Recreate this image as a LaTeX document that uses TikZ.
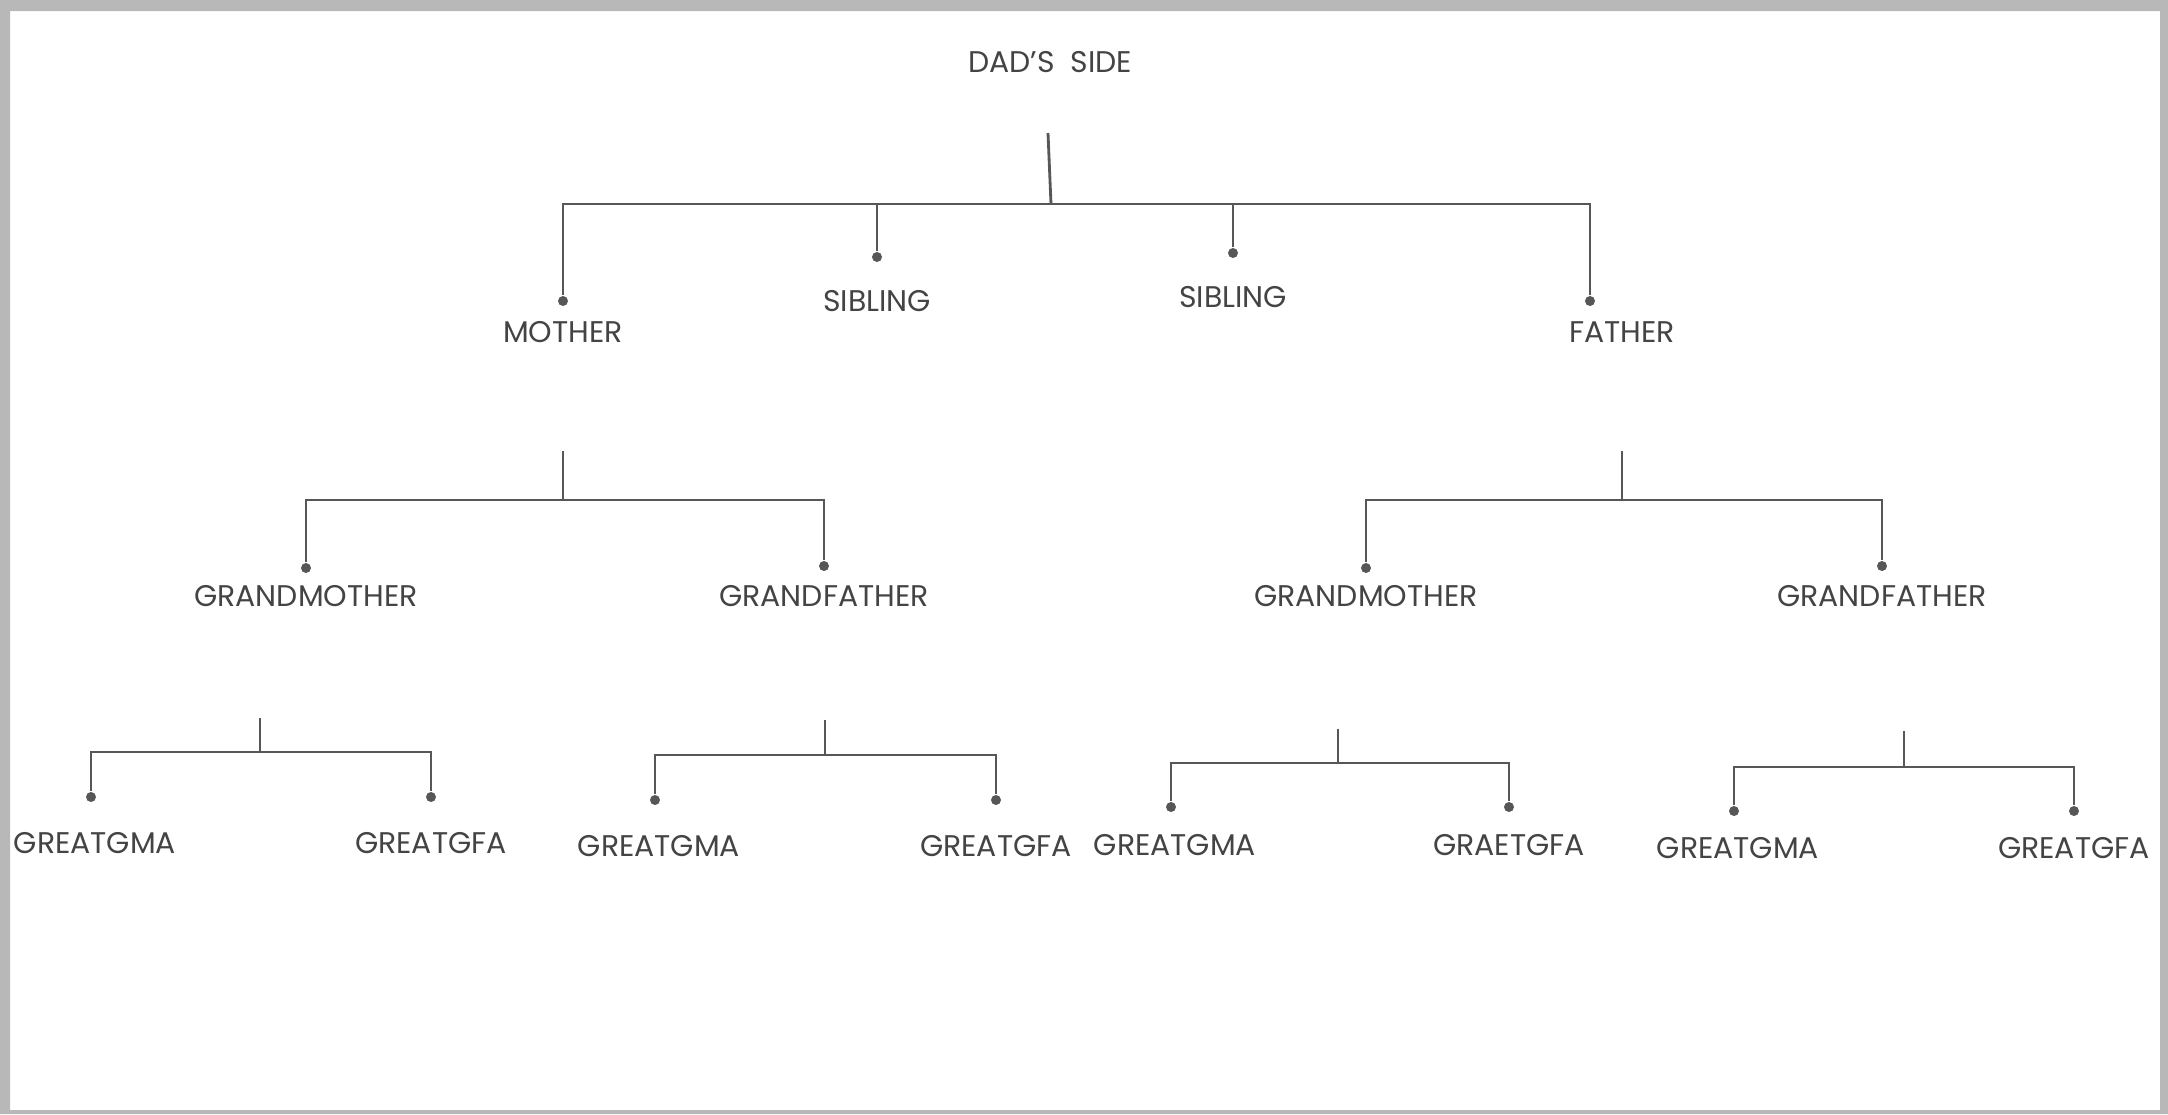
\documentclass[tikz,border=0pt]{standalone}
\usepackage{fontspec}
\setmainfont{Poppins}
\definecolor{inkgray}{HTML}{444444}
\definecolor{linegray}{HTML}{575757}
\definecolor{framegray}{HTML}{B8B8B8}
\tikzset{
	member/.style = {text = inkgray, font = \fontsize{8.5}{10}\selectfont, inner sep = 0pt},
	link/.style = {draw = linegray, line width = 0.8pt},
	joint/.style = {circle, fill = linegray, inner sep = 0pt, minimum size = 0.1cm}
}
\begin{document}
\begin{tikzpicture}[x = 0.01cm, y = -0.01cm]
	\fill [white] (0, 0) rectangle (2168, 1114);
	% dad's side, first row
	\node[member] (dad) at (1050, 62) {DAD’S\ \ SIDE};
	\coordinate (dadtop) at (1048, 133);
	\coordinate (dadhub) at (1051, 204);
	\node[joint] (mother-dot) at (563, 301) {};
	\node[joint] (sib1-dot) at (877, 257) {};
	\node[joint] (sib2-dot) at (1233, 253) {};
	\node[joint] (father-dot) at (1590, 301) {};
	\node[member] (mother) at (563, 332) {MOTHER};
	\node[member] (sib1) at (877, 301) {SIBLING};
	\node[member] (sib2) at (1233, 297) {SIBLING};
	\node[member] (father) at (1622, 332) {FATHER};
	\draw [link] (dadtop) -- (dadhub);
	\draw [link] (mother-dot) -- (mother-dot |- dadhub) -- (father-dot |- dadhub) -- (father-dot);
	\draw [link] (sib1-dot) -- (sib1-dot |- dadhub);
	\draw [link] (sib2-dot) -- (sib2-dot |- dadhub);
	% grandparents
	\foreach \n/\sx/\lx/\rx in {m/563/306/824, f/1622/1366/1882}{
		\coordinate (top\n) at (\sx, 451);
		\coordinate (hub\n) at (\sx, 500);
		\node[joint] (gm\n-dot) at (\lx, 568) {};
		\node[joint] (gf\n-dot) at (\rx, 566) {};
		\node[member] (gm\n) at (\lx, 596) {GRANDMOTHER};
		\node[member] (gf\n) at (\rx, 596) {GRANDFATHER};
		\draw [link] (top\n) -- (hub\n);
		\draw [link] (gm\n-dot) -- (gm\n-dot |- hub\n) -- (gf\n-dot |- hub\n) -- (gf\n-dot);}
	% great grandparents
	\foreach \n/\sx/\ty/\by/\lx/\rx/\ly/\ny/\rtext in {
		1/260/718/752/91/431/797/843/GREATGFA,
		2/825/720/755/655/996/800/846/GREATGFA,
		3/1338/729/763/1171/1509/807/845/GRAETGFA,
		4/1904/731/767/1734/2074/811/848/GREATGFA}{
		\coordinate (top\n) at (\sx, \ty);
		\coordinate (hub\n) at (\sx, \by);
		\node[joint] (gma\n-dot) at (\lx, \ly) {};
		\node[joint] (gfa\n-dot) at (\rx, \ly) {};
		\node[member] (gma\n) at (\lx + 4, \ny) {GREATGMA};
		\node[member] (gfa\n) at (\rx, \ny) {\rtext};
		\draw [link] (top\n) -- (hub\n);
		\draw [link] (gma\n-dot) -- (gma\n-dot |- hub\n) -- (gfa\n-dot |- hub\n) -- (gfa\n-dot);}
	% frame
	\fill [framegray, even odd rule] (0, 0) rectangle (2168, 1114) (10, 11) rectangle (2160, 1110);
\end{tikzpicture}
\end{document}
